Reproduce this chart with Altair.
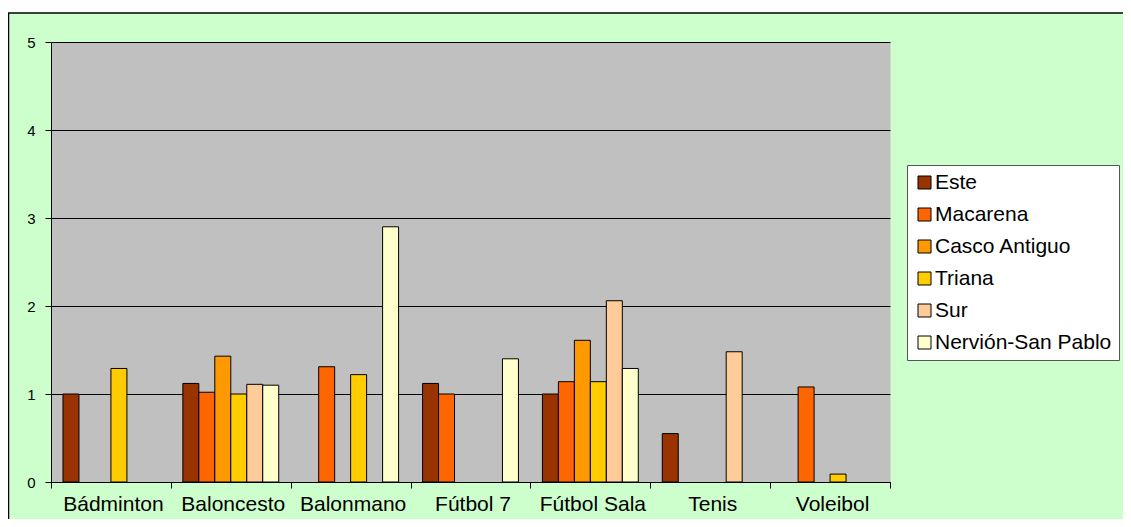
import altair as alt
import pandas as pd

sports = ["Bádminton", "Baloncesto", "Balonmano", "Fútbol 7", "Fútbol Sala", "Tenis", "Voleibol"]
zones = ["Este", "Macarena", "Casco Antiguo", "Triana", "Sur", "Nervión-San Pablo"]
colors = ["#993300", "#FF6600", "#FF9900", "#FFCC00", "#FFCC99", "#FFFFCC"]

este = [1.0, 1.12, None, 1.12, 1.0, 0.55, None]
macarena = [None, 1.02, 1.31, 1.0, 1.14, None, 1.08]
casco = [None, 1.43, None, None, 1.61, None, None]
triana = [1.29, 1.0, 1.22, None, 1.14, None, 0.09]
sur = [None, 1.11, None, None, 2.06, 1.48, None]
nervion = [None, 1.1, 2.9, 1.4, 1.29, None, None]

series = [este, macarena, casco, triana, sur, nervion]
rows = []
for zone, vals in zip(zones, series):
    for sport, v in zip(sports, vals):
        if v is not None:
            rows.append({"sport": sport, "zone": zone, "value": v})
df = pd.DataFrame(rows)

FONT = "Liberation Sans"

bars = alt.Chart(df).mark_bar(stroke="black", strokeWidth=1).encode(
    x=alt.X("sport:N", sort=sports,
            scale=alt.Scale(paddingInner=0, paddingOuter=0),
            axis=alt.Axis(title=None, labelAngle=0, tickBand="extent",
                          labelFontSize=21, labelFont=FONT, labelColor="black",
                          tickSize=6, tickColor="black", domainColor="black",
                          labelPadding=5, labelOffset=2, grid=False)),
    xOffset=alt.XOffset("zone:N", sort=zones,
                        scale=alt.Scale(paddingInner=0, paddingOuter=0.75)),
    y=alt.Y("value:Q", scale=alt.Scale(domain=[0, 5], nice=False),
            axis=alt.Axis(title=None, values=[0, 1, 2, 3, 4, 5],
                          labelFontSize=15, labelFont=FONT, labelColor="black",
                          tickSize=6, tickColor="black", domainColor="black",
                          labelPadding=10, grid=True, gridColor="black",
                          gridWidth=1, gridOpacity=1)),
    color=alt.Color("zone:N", sort=zones,
                    scale=alt.Scale(domain=zones, range=colors),
                    legend=alt.Legend(title=None, orient="none",
                                      legendX=856, legendY=123,
                                      fillColor="white", strokeColor="#555555",
                                      padding=7, labelFontSize=21, labelFont=FONT,
                                      labelColor="black", labelLimit=500,
                                      symbolType="square",
                                      symbolSize=169, symbolStrokeColor="black",
                                      symbolStrokeWidth=1, symbolOpacity=1,
                                      rowPadding=10, labelOffset=0)),
)

one = pd.DataFrame({"a": [0]})
top_strip = alt.Chart(one).mark_rect(color="white").encode(
    x=alt.value(-43), x2=alt.value(1080), y=alt.value(-34), y2=alt.value(-29))
top_border = alt.Chart(one).mark_rule(color="black", strokeWidth=1.5).encode(
    x=alt.value(-43), x2=alt.value(1080), y=alt.value(-29))
left_border = alt.Chart(one).mark_rule(color="black", strokeWidth=1.5).encode(
    x=alt.value(-42.5), y=alt.value(-29), y2=alt.value(480))

chart = alt.layer(top_strip, top_border, left_border, bars).properties(
    width=839, height=440,
    autosize=alt.AutoSizeParams(type="none"),
    padding={"left": 43, "top": 34, "right": 233, "bottom": 37},
    background="#CCFFCC",
).configure_view(fill="#C0C0C0", stroke="transparent")

chart.save("out.html", embed_options={"renderer": "svg", "actions": False})
